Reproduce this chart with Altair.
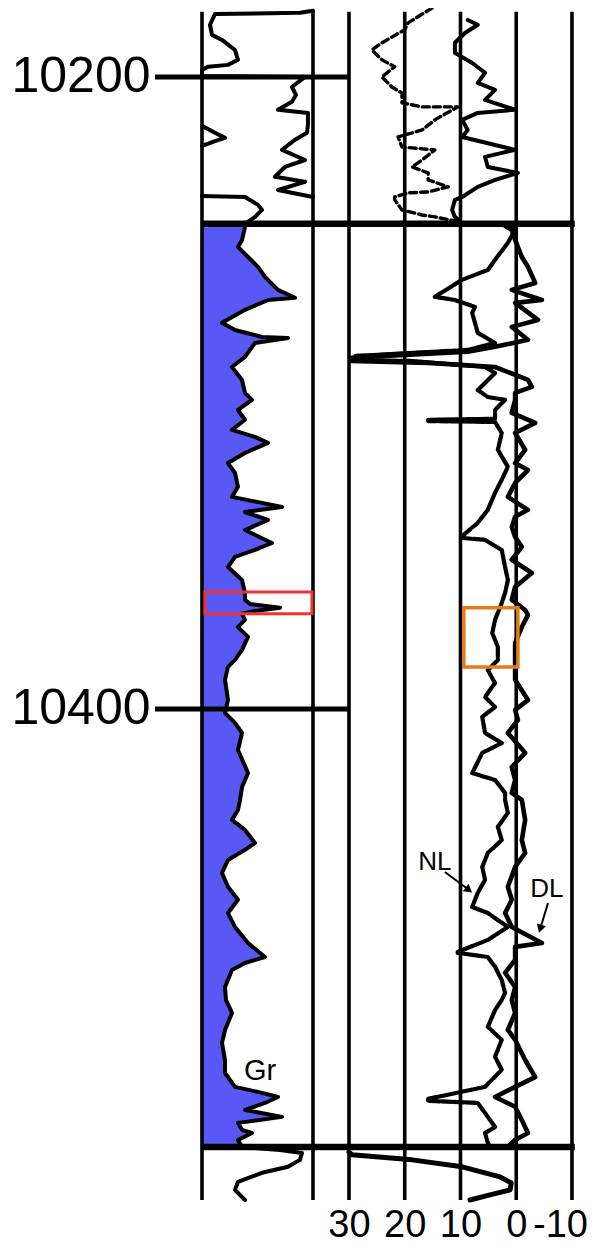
import altair as alt
import pandas as pd

# ---------------- data ----------------
DEPTH_LABELS = [10200, 10400]
POR_TICKS = [30, 20, 10, 0, -10]
SPLICE_DEPTHS = [10246.5, 10538.6]

# gamma ray, upper interval (wrapped trace + trace near full scale), API
GR_UP_DEPTH = [10179.1, 10179.7, 10180.1, 10183.5, 10186.7, 10188.3, 10191.5, 10194.6, 10196.2,
               10196.8, 10197.8, 10199.7, 10200.0, 10203.2, 10205.7, 10207.9, 10210.4, 10211.4,
               10215.2, 10217.7, 10219.9, 10223.1, 10226.3, 10228.5, 10231.6, 10233.2, 10235.8, 10238.0]
GR_UP_API = [150, 132.4, 17.6, 10.8, 13.5, 27.0, 44.6, 48.6, 35.1,
             8.1, 0, 0, 139.2, 121.6, 127.0, 121.6, 102.7, 143.2,
             143.2, 141.9, 125.7, 108.1, 139.2, 112.2, 98.6, 139.2, 102.7, 150]
GR_WRAP_DEPTH = [10215.5, 10217.7, 10219.3, 10220.3, 10221.8]
GR_WRAP_API = [0, 17.6, 31.1, 17.6, 0]

# gamma ray, main trace
GR_DEPTH = [10237.7, 10238.0, 10240.5, 10242.1, 10244.3,
            10246.5, 10247.5, 10251.6, 10253.8, 10257.0, 10260.1, 10263.3, 10267.4, 10269.9, 10270.6,
            10273.7, 10277.8, 10280.1, 10282.3, 10282.6, 10284.2, 10288.6, 10291.8, 10295.9, 10300.0,
            10302.2, 10305.4, 10308.5, 10311.7, 10313.9, 10315.8, 10319.0, 10322.2, 10325.3, 10329.7,
            10332.9, 10334.8, 10336.1, 10337.7, 10340.2, 10343.4, 10347.5, 10349.7, 10351.9, 10355.1,
            10359.2, 10363.3, 10365.5, 10366.8, 10368.0, 10369.0, 10369.9, 10371.8, 10374.1, 10377.2,
            10381.3, 10384.5, 10386.7, 10390.8, 10397.2, 10401.3, 10404.4, 10407.6, 10413.0, 10420.3,
            10424.7, 10428.8, 10432.0, 10435.1, 10438.3, 10442.4, 10444.6, 10447.8, 10451.9, 10456.3,
            10460.4, 10464.6, 10469.0, 10474.1, 10478.5, 10480.4, 10482.6, 10488.0, 10492.1, 10496.2,
            10501.6, 10505.7, 10511.1, 10515.2, 10519.6, 10521.5, 10522.8, 10524.7, 10526.9, 10529.1,
            10531.0, 10533.2, 10534.2, 10536.4, 10538.6,
            10539.6, 10540.5, 10542.7, 10544.9, 10546.8, 10549.7, 10552.2, 10555.4]
GR_API = [0, 58.1, 75.7, 81.1, 71.6,
          58.1, 58.1, 54.1, 48.6, 62.2, 75.7, 85.1, 102.7, 125.7, 89.2,
          58.1, 27.0, 44.6, 81.1, 116.2, 71.6, 58.1, 40.5, 54.1, 58.1,
          67.6, 48.6, 58.1, 40.5, 71.6, 89.2, 58.1, 35.1, 44.6, 48.6,
          40.5, 81.1, 108.1, 58.1, 89.2, 58.1, 94.6, 71.6, 44.6, 35.1,
          54.1, 58.1, 58.1, 64.9, 105.4, 71.6, 54.1, 58.1, 48.6, 62.2,
          54.1, 44.6, 35.1, 31.1, 35.1, 31.1, 44.6, 54.1, 48.6, 62.2,
          54.1, 51.4, 48.6, 40.5, 58.1, 71.6, 58.1, 35.1, 27.0, 35.1,
          48.6, 35.1, 44.6, 62.2, 85.1, 58.1, 40.5, 31.1, 32.4, 40.5,
          31.1, 27.0, 31.1, 31.1, 44.6, 81.1, 102.7, 85.1, 58.1, 108.1,
          48.6, 54.1, 67.6, 48.6, 54.1,
          105.4, 135.1, 132.4, 116.2, 81.1, 48.6, 44.6, 58.1]

# neutron (NL) and density (DL) porosity, upper interval
NL_TOP_DEPTH = [10178.2, 10182.9, 10185.1, 10189.2, 10191.5, 10194.6, 10196.8, 10200.0, 10203.2,
                10205.1, 10208.2, 10209.5, 10209.5, 10213.6, 10216.8, 10219.0, 10222.2, 10223.1,
                10226.3, 10228.5, 10230.4, 10232.6, 10234.8, 10236.4, 10236.7, 10238.0, 10238.9,
                10242.1, 10243.7, 10244.3, 10245.6]
NL_TOP = [15.1, 19.4, 20.0, 24.1, 25.9, 24.1, 21.8, 24.1, 22.3,
          20.5, 20.5, 16.9, 10.5, 14.6, 16.9, 21.2, 20.5, 14.6,
          16.9, 18.7, 15.8, 15.8, 12.2, 15.8, 19.4, 21.8, 21.8,
          20.5, 16.9, 14.6, 11.0]
DL_TOP_DEPTH = [10182.0, 10183.5, 10186.1, 10189.2, 10192.4, 10195.6, 10198.7, 10201.9, 10204.1,
                10207.3, 10210.4, 10211.4, 10213.6, 10216.8, 10219.0, 10223.1, 10225.3, 10228.5,
                10230.4, 10232.6, 10234.8, 10238.0, 10238.9, 10242.1, 10244.3, 10245.6]
DL_TOP = [8.7, 6.9, 9.2, 11.0, 11.0, 7.9, 5.6, 6.9, 3.8,
          5.6, 0.2, 6.9, 9.7, 8.7, 9.7, 0.2, 5.6, 5.1,
          -0.3, 3.8, 6.9, 9.7, 11.0, 11.5, 11.0, 10.1]

# main interval
DL_DEPTH = [10247.1, 10248.4, 10251.6, 10257.0, 10260.1, 10265.2, 10267.4, 10270.6, 10271.5, 10276.9,
            10279.1, 10283.2, 10285.4, 10287.0, 10288.9, 10289.9, 10290.5, 10291.8, 10295.9, 10298.1,
            10300.0, 10302.2, 10306.3, 10309.5, 10312.7, 10318.0, 10322.2, 10324.4, 10328.5, 10332.9,
            10337.0, 10339.2, 10342.4, 10345.6, 10348.7, 10352.8, 10357.0, 10361.4, 10365.5, 10368.7,
            10370.3, 10374.1, 10379.1, 10386.7, 10390.8, 10397.2, 10400.3, 10403.5, 10407.6, 10413.9,
            10418.4, 10422.5, 10426.6, 10428.8, 10435.1, 10441.5, 10445.6, 10450.0, 10456.3, 10460.4,
            10464.6, 10469.0, 10474.1, 10475.3, 10479.4, 10483.5, 10488.0, 10492.1, 10496.2, 10501.6,
            10504.7, 10511.1, 10516.5, 10519.6, 10522.8, 10525.9, 10530.1, 10534.2, 10536.4, 10538.6]
DL = [2.0, 0.8, 0.2, -1.0, -2.1, -3.4, 0.8, -4.6, 0.2, -3.9,
      0.8, -2.1, 3.8, 8.7, 29.5, 29.5, 15.8, 3.8, -2.1, -2.8,
      0.2, 0.2, 0.8, -3.4, 0.2, -1.6, 0.2, -2.1, 0.2, 1.5,
      -2.1, 0.2, 0.8, 0.2, -1.0, 0.8, -2.8, 0.2, 0.8, -1.6,
      -2.1, -1.0, 0.2, 0.2, 0.2, -2.1, 0.2, -0.3, 1.5, -1.6,
      0.8, 0.2, 0.8, -1.0, -1.6, -1.0, -1.6, 0.2, 1.5, 0.8,
      2.0, 0.8, -4.6, 0.2, 0.2, 2.0, 0.2, 0.8, 0.2, 1.5,
      0.2, -1.6, -3.4, 0.2, 3.8, 0.2, -1.0, -2.1, 0.2, 1.5]
NL_DEPTH = [10247.1, 10248.4, 10252.5, 10257.9, 10261.1, 10264.2, 10269.6, 10270.6, 10272.8, 10274.7,
            10281.0, 10284.2, 10286.4, 10288.3, 10289.6, 10289.9, 10291.8, 10293.7, 10299.1, 10301.3,
            10302.2, 10305.4, 10308.2, 10308.5, 10308.9, 10309.2, 10312.7, 10318.0, 10323.4, 10327.5,
            10331.6, 10337.0, 10341.1, 10345.3, 10345.9, 10346.5, 10349.7, 10355.1, 10359.2, 10363.3,
            10366.5, 10371.8, 10376.0, 10380.4, 10384.5, 10387.7, 10391.8, 10396.2, 10399.4, 10402.5,
            10407.6, 10410.8, 10413.9, 10420.3, 10422.5, 10426.6, 10428.8, 10432.9, 10437.3, 10441.5,
            10445.6, 10450.0, 10454.1, 10458.2, 10462.7, 10464.6, 10469.0, 10473.1, 10476.9, 10477.2,
            10478.5, 10481.6, 10485.8, 10489.9, 10492.1, 10495.3, 10500.6, 10504.7, 10510.1, 10514.2,
            10519.6, 10523.4, 10524.0, 10524.7, 10529.1, 10532.3, 10534.2, 10537.3, 10538.6]
NL = [1.5, 0.2, 1.5, 3.8, 5.1, 9.7, 14.6, 11.0, 7.4, 7.9,
      6.9, 3.8, 8.7, 28.9, 28.9, 18.7, 5.6, 3.8, 6.9, 5.1,
      2.0, 3.8, 3.8, 15.8, 15.8, 3.8, 2.6, 3.3, 1.5, 2.6,
      3.8, 5.1, 6.9, 9.7, 9.7, 5.6, 2.6, 2.0, 1.5, 2.0,
      2.6, 3.8, 4.3, 3.3, 3.3, 5.1, 3.8, 5.6, 3.8, 6.1,
      5.6, 2.6, 6.1, 7.9, 3.8, 2.0, 2.0, 1.5, 3.3, 2.6,
      5.1, 6.1, 5.6, 6.9, 7.9, 5.1, 1.5, 5.1, 10.5, 10.5,
      5.1, 3.8, 2.6, 2.0, 2.6, 3.8, 5.1, 2.6, 3.8, 2.6,
      5.6, 15.8, 15.8, 6.9, 5.1, 3.8, 5.6, 5.1, 4.7]

# porosity trace below the lower splice
BOT_DEPTH = [10540.2, 10541.1, 10542.7, 10544.9, 10548.1, 10550.0, 10552.2, 10553.8, 10555.4]
BOT = [30.0, 29.5, 18.7, 9.7, 2.9, 0.9, 1.1, 4.7, 8.3]

# annotations
LABELS = ["NL", "DL"]
LABEL_DEPTH = [10451.0, 10459.5]
LABEL_POR = [14.6, -5.5]
GR_LABEL = ["Gr"]
GR_LABEL_DEPTH = [10517.4]
GR_LABEL_API = [78.4]
ARROW_FROM_DEPTH = [10451.6, 10461.4]
ARROW_FROM_POR = [12.8, -5.7]
ARROW_TO_DEPTH = [10456.6, 10469.0]
ARROW_TO_POR = [9.0, -4.4]
HEAD_DEPTH = [10457.3, 10469.6]
HEAD_POR = [8.5, -4.3]
HEAD_ANGLE = [128, 197]

# highlight boxes
RED_BOX = dict(d1=10363.0, d2=10369.9, a1=4.1, a2=148.6)          # GR track, API
ORANGE_BOX = dict(d1=10368.0, d2=10386.7, p1=9.4, p2=-0.3)        # porosity track

# ---------------- layout ----------------
X_LEFT, X_RIGHT = 64.8, -11.08       # porosity-scale values at plot edges
GR_L, GR_R = 56.37, 36.46            # GR 0 / 150 API position on porosity scale
GR_K = (GR_R - GR_L) / 150.0
TOP_D, BOT_D = 10178.2, 10555.4
LINE_TOP = 10179.4
RIGHT_EDGE = -10.5
BLUE = "#5858f4"
FONT = "Liberation Sans, Arial, sans-serif"

xs = alt.Scale(domain=[X_RIGHT, X_LEFT], reverse=True, nice=False, zero=False)
ys = alt.Scale(domain=[TOP_D, BOT_D], reverse=True, nice=False, zero=False)

X_AXIS = alt.Axis(
    values=POR_TICKS, labelExpr="'' + datum.value", labelFontSize=38, labelFont=FONT,
    labelColor="black", ticks=False, domain=False, grid=False, title=None,
    labelPadding=6, labelOverlap=False, labelFlush=False, labelBound=False,
    labelOffset={"condition": {"test": "datum.value == -10", "value": -12}, "value": 0})
Y_AXIS = alt.Axis(
    values=DEPTH_LABELS, labelExpr="'' + datum.value", labelFontSize=50, labelFont=FONT,
    labelColor="black", ticks=False, domain=False, grid=False, title=None,
    labelPadding=5, labelOverlap=False, labelFlush=False, labelBound=False)

def X(field="x"):
    return alt.X(f"{field}:Q", scale=xs, axis=X_AXIS)

def Y(field="depth"):
    return alt.Y(f"{field}:Q", scale=ys, axis=Y_AXIS)

gr_calc = f"{GR_L} + datum.api * {GR_K}"

def gr_df(depths, apis):
    return pd.DataFrame({"depth": depths, "api": apis, "i": range(len(depths))})

def por_df(depths, vals):
    return pd.DataFrame({"depth": depths, "x": vals, "i": range(len(depths))})

# fill under GR between splices
main_gr = gr_df(GR_DEPTH, GR_API)
fill_df = main_gr[(main_gr.depth >= SPLICE_DEPTHS[0]) & (main_gr.depth <= SPLICE_DEPTHS[1])]
fill = alt.Chart(fill_df).transform_calculate(x=gr_calc, x0=str(GR_L)).mark_area(
    orient="horizontal", color=BLUE, opacity=1
).encode(y=Y(), x=X(), x2="x0:Q")

def gr_line(df, width=4.0):
    return alt.Chart(df).transform_calculate(x=gr_calc).mark_line(
        color="black", strokeWidth=width, strokeJoin="round", strokeCap="round"
    ).encode(x=X(), y=Y(), order="i:Q")

def por_line(df, width=4.0, dash=None):
    kw = dict(color="black", strokeWidth=width, strokeJoin="round", strokeCap="round")
    if dash:
        kw["strokeDash"] = dash
    return alt.Chart(df).mark_line(**kw).encode(x=X(), y=Y(), order="i:Q")

layers = [fill]

# vertical track lines
vgrid = pd.DataFrame({"x": POR_TICKS, "y1": LINE_TOP, "y2": BOT_D})
layers.append(alt.Chart(vgrid).mark_rule(color="black", strokeWidth=3.6).encode(
    x=X(), y=Y("y1"), y2="y2:Q"))
gr_edges = pd.DataFrame({"api": [0, 150], "y1": LINE_TOP, "y2": BOT_D})
layers.append(alt.Chart(gr_edges).transform_calculate(x=gr_calc).mark_rule(
    color="black", strokeWidth=3.6).encode(x=X(), y=Y("y1"), y2="y2:Q"))

# curves
layers += [
    gr_line(gr_df(GR_UP_DEPTH, GR_UP_API)),
    gr_line(gr_df(GR_WRAP_DEPTH, GR_WRAP_API)),
    gr_line(main_gr),
    por_line(por_df(NL_TOP_DEPTH, NL_TOP), width=3.4, dash=[7, 4]),
    por_line(por_df(DL_TOP_DEPTH, DL_TOP), width=4.0),
    por_line(por_df(NL_DEPTH, NL), width=4.2, dash=[10, 2]),
    por_line(por_df(DL_DEPTH, DL), width=4.6),
    por_line(por_df(BOT_DEPTH, BOT), width=5),
]

# splice lines and depth ticks
splice = pd.DataFrame({"depth": SPLICE_DEPTHS, "x": GR_L, "x2": RIGHT_EDGE})
layers.append(alt.Chart(splice).mark_rule(color="black", strokeWidth=6.5).encode(
    y=Y(), x=X(), x2="x2:Q"))
ticks = pd.DataFrame({"depth": DEPTH_LABELS, "x": X_LEFT, "x2": POR_TICKS[0]})
layers.append(alt.Chart(ticks).mark_rule(color="black", strokeWidth=5).encode(
    y=Y(), x=X(), x2="x2:Q"))

# highlight boxes
red = pd.DataFrame([RED_BOX])
layers.append(alt.Chart(red).transform_calculate(
    x=f"{GR_L} + datum.a1 * {GR_K}", xb=f"{GR_L} + datum.a2 * {GR_K}"
).mark_rect(filled=False, stroke="#f03232", strokeWidth=3).encode(
    x=X(), x2="xb:Q", y=Y("d1"), y2="d2:Q"))
org = pd.DataFrame([ORANGE_BOX])
layers.append(alt.Chart(org).mark_rect(filled=False, stroke="#e57c14", strokeWidth=3.5).encode(
    x=X("p1"), x2="p2:Q", y=Y("d1"), y2="d2:Q"))

# annotations
lab = pd.DataFrame({"t": LABELS, "depth": LABEL_DEPTH, "x": LABEL_POR})
layers.append(alt.Chart(lab).mark_text(font=FONT, fontSize=26, color="black",
                                       align="center", baseline="alphabetic").encode(
    x=X(), y=Y(), text="t:N"))
grl = pd.DataFrame({"t": GR_LABEL, "depth": GR_LABEL_DEPTH, "api": GR_LABEL_API})
layers.append(alt.Chart(grl).transform_calculate(x=gr_calc).mark_text(
    font=FONT, fontSize=29, color="black", align="center", baseline="alphabetic").encode(
    x=X(), y=Y(), text="t:N"))
arr = pd.DataFrame({"depth": ARROW_FROM_DEPTH, "x": ARROW_FROM_POR,
                    "d2": ARROW_TO_DEPTH, "x2": ARROW_TO_POR})
layers.append(alt.Chart(arr).mark_rule(color="black", strokeWidth=2).encode(
    x=X(), x2="x2:Q", y=Y(), y2="d2:Q"))
heads = pd.DataFrame({"depth": HEAD_DEPTH, "x": HEAD_POR, "ang": HEAD_ANGLE})
layers.append(alt.Chart(heads).mark_point(shape="triangle-up", filled=True, color="black",
                                          size=90, opacity=1).encode(
    x=X(), y=Y(), angle=alt.Angle("ang:Q", scale=None)))

chart = alt.layer(*layers).properties(
    width=423, height=1192,
    autosize=alt.AutoSizeParams(type="none"),
    padding={"left": 147, "top": 0, "right": 11, "bottom": 50},
    background="white",
).configure_view(stroke=None)

chart.save("out.html", embed_options={"renderer": "svg", "actions": False})
